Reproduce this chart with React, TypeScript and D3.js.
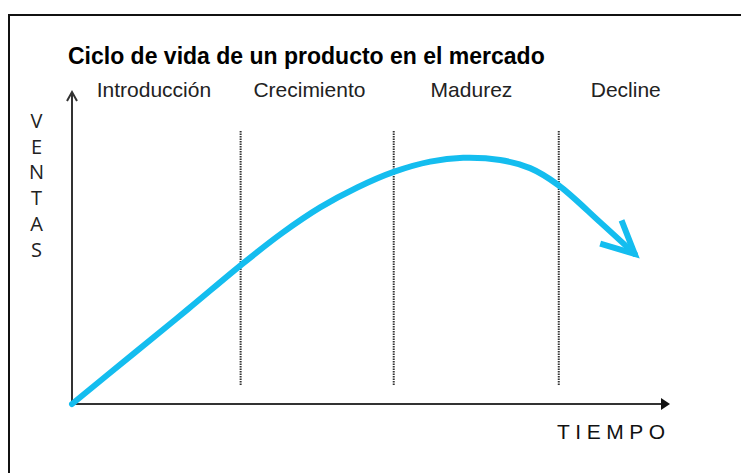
import React, { useEffect, useRef } from 'react';
import * as d3 from 'd3';

// chart data
const title = 'Ciclo de vida de un producto en el mercado';
const stages = ['Introducción', 'Crecimiento', 'Madurez', 'Decline'];
const stageLabelAt = [13.7, 39.7, 66.8, 92.6];
const stageBounds = [28.2, 53.8, 81.4];
const time = [0, 10.2, 19.4, 28.3, 35, 41.5, 47.7, 53.8, 59.9, 65.4, 71.6, 76.6, 81.3, 88.3, 94.1];
const sales = [0, 16.0, 30.4, 44.6, 54.6, 63.0, 69.4, 74.4, 77.7, 78.9, 78.2, 75.6, 70.2, 58.3, 48.1];
const yLabel = 'VENTAS';
const xLabel = 'TIEMPO';

const W = 741;
const H = 473;

const App = () => {
  const ref = useRef<SVGSVGElement | null>(null);

  useEffect(() => {
    if (!ref.current) return;
    const svg = d3.select(ref.current);
    svg.selectAll('*').remove();

    const x = d3.scaleLinear().domain([0, 100]).range([72, 670]);
    const y = d3.scaleLinear().domain([0, 100]).range([404, 92]);

    // frame
    svg.append('rect')
      .attr('x', 9).attr('y', 15)
      .attr('width', W + 20).attr('height', H + 20)
      .attr('fill', '#fff')
      .attr('stroke', '#111')
      .attr('stroke-width', 2);

    svg.append('text')
      .attr('x', 68).attr('y', 64)
      .attr('font-family', 'Liberation Sans, Arial, sans-serif')
      .attr('font-weight', 'bold')
      .attr('font-size', 23)
      .attr('fill', '#000')
      .text(title);

    svg.selectAll('text.stage')
      .data(stages)
      .enter()
      .append('text')
      .attr('class', 'stage')
      .attr('x', (d, i) => x(stageLabelAt[i]))
      .attr('y', 97)
      .attr('text-anchor', 'middle')
      .attr('font-family', 'Liberation Sans, Arial, sans-serif')
      .attr('font-size', 21)
      .attr('fill', '#222')
      .text(d => d);

    // dotted stage separators
    svg.selectAll('line.sep')
      .data(stageBounds)
      .enter()
      .append('line')
      .attr('class', 'sep')
      .attr('x1', d => x(d)).attr('x2', d => x(d))
      .attr('y1', 131).attr('y2', 386)
      .attr('stroke', '#333')
      .attr('stroke-width', 2)
      .attr('stroke-dasharray', '1.5,1');

    // axes
    const axisColor = '#333';
    svg.append('line')
      .attr('x1', x(0)).attr('x2', x(0))
      .attr('y1', y(0)).attr('y2', y(100))
      .attr('stroke', axisColor).attr('stroke-width', 2);
    svg.append('path')
      .attr('d', `M${x(0) - 5},${y(100) + 9}L${x(0)},${y(100)}L${x(0) + 5},${y(100) + 9}`)
      .attr('fill', 'none')
      .attr('stroke', axisColor).attr('stroke-width', 2);

    svg.append('line')
      .attr('x1', x(0)).attr('x2', x(100) - 6)
      .attr('y1', y(0)).attr('y2', y(0))
      .attr('stroke', axisColor).attr('stroke-width', 2);
    svg.append('path')
      .attr('d', `M${x(100)},${y(0)}L${x(100) - 9},${y(0) - 6}L${x(100) - 9},${y(0) + 6}Z`)
      .attr('fill', '#111');

    // axis titles
    svg.selectAll('text.ylab')
      .data(yLabel.split(''))
      .enter()
      .append('text')
      .attr('class', 'ylab')
      .attr('x', 36.5)
      .attr('y', (d, i) => 128 + i * 25.7)
      .attr('text-anchor', 'middle')
      .attr('font-family', 'Open Sans, sans-serif')
      .attr('font-size', 20)
      .attr('fill', '#222')
      .text(d => d);

    svg.append('text')
      .attr('x', 557).attr('y', 439)
      .attr('font-family', 'Liberation Sans, Arial, sans-serif')
      .attr('font-size', 21)
      .attr('letter-spacing', 5.5)
      .attr('fill', '#111')
      .text(xLabel);

    // sales curve
    const pts = time.map((t, i) => [t, sales[i]] as [number, number]);
    const line = d3.line<[number, number]>()
      .x(d => x(d[0]))
      .y(d => y(d[1]))
      .curve(d3.curveCatmullRom.alpha(0.5));
    const curveColor = '#14bdef';
    svg.append('path')
      .datum(pts)
      .attr('d', line)
      .attr('fill', 'none')
      .attr('stroke', curveColor)
      .attr('stroke-width', 6)
      .attr('stroke-linecap', 'round');

    // open arrowhead at the end
    const n = pts.length;
    const tipX = x(pts[n - 1][0]);
    const tipY = y(pts[n - 1][1]);
    const prevX = x(pts[n - 2][0]);
    const prevY = y(pts[n - 2][1]);
    const back = Math.atan2(prevY - tipY, prevX - tipX);
    const len = 36;
    const spread = (26 * Math.PI) / 180;
    const a1 = back - spread;
    const a2 = back + spread;
    svg.append('path')
      .attr('d', `M${tipX + len * Math.cos(a1)},${tipY + len * Math.sin(a1)}L${tipX},${tipY}L${tipX + len * Math.cos(a2)},${tipY + len * Math.sin(a2)}`)
      .attr('fill', 'none')
      .attr('stroke', curveColor)
      .attr('stroke-width', 6)
      .attr('stroke-linejoin', 'miter');
  }, []);

  return (
    <svg
      ref={ref}
      width={W}
      height={H}
      style={{ position: 'absolute', left: 0, top: 0, background: '#fff' }}
    />
  );
};

export default App;
